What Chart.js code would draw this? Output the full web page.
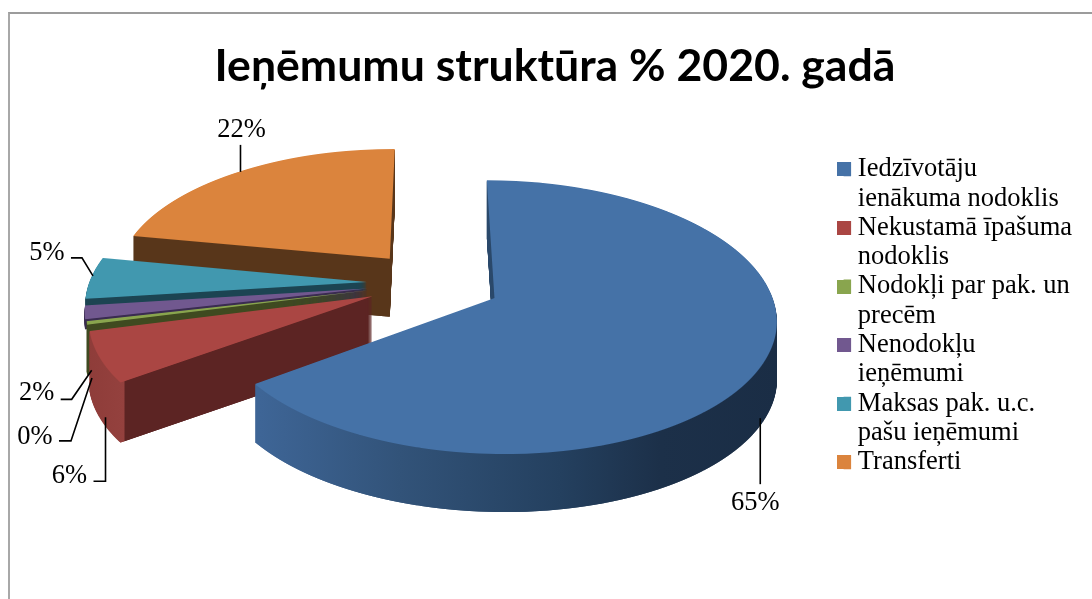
<!DOCTYPE html>
<html>
<head>
<meta charset="utf-8">
<style>
html,body{margin:0;padding:0;background:#fff;width:1092px;height:599px;overflow:hidden}
#frame{position:absolute;left:8px;top:12px;width:1084px;height:587px;border-top:2px solid #9c9c9c;border-left:2px solid #a8a8a8;box-sizing:border-box}
canvas{position:absolute;left:0;top:0}
</style>
<script src="https://cdn.jsdelivr.net/npm/chart.js@4"></script>
</head>
<body>
<div id="frame"></div>
<canvas id="c" width="1092" height="599"></canvas>
<script>
const chartTitle = 'Ieņēmumu struktūra % 2020. gadā';
const categories = [
  ['Iedzīvotāju', 'ienākuma nodoklis'],
  ['Nekustamā īpašuma', 'nodoklis'],
  ['Nodokļi par pak. un', 'precēm'],
  ['Nenodokļu', 'ieņēmumi'],
  ['Maksas pak. u.c.', 'pašu ieņēmumi'],
  'Transferti'
];
const values = [65.0, 6.0, 0.4, 1.6, 5.0, 22.0];
const topColors = ['#4572A7', '#AA4643', '#89A54E', '#71588F', '#4198AF', '#DB843D'];
const drawOrder = [5, 4, 3, 2, 1, 0];
const sideStops = [
  [[260,'#3E6596'],[400,'#325379'],[560,'#24405F'],[660,'#1C3049'],[780,'#1A2D45']],
  [[85,'#8E3C39'],[124,'#94413E'],[125,'#5C2423'],[380,'#5C2423']],
  [[85,'#3F4A20'],[380,'#3F4A20']],
  [[85,'#3A2C50'],[380,'#3A2C50']],
  [[85,'#1C4452'],[380,'#1C4452']],
  [[130,'#58361A'],[400,'#58361A']]
];
/* leader geometry, relative to the projected rim point of each slice */
const leaderPaths = [
  [[-3,55],[-3,121]],
  [[6,60],[6,124],[-6,124]],
  [[5,55],[-16,118],[-28,118]],
  [[7,58],[-13,87],[-24,87]],
  [[2,-2],[-9,-20],[-20,-20]],
  [[2,0],[2,-27]]
];
const labelOffsets = [[-8,140],[-30,119],[-52,114],[-48,81],[-44,-25],[3,-42]];

/* projection of the pie plane */
const view = {cx:432, cy:283, tilt:0.475, persp:0.0005};
const sliceDepth = [58, 60, 50, 10, 8, 58];
const sliceExplode = [69, 65, 65, 65, 65, 68];
const sliceScale = [0.978, 0.985, 0.985, 0.99, 0.993, 0.985];
const rimPoint = (arc, i) => {
  const mid = (arc.startAngle + arc.endAngle) / 2;
  const reach = sliceExplode[i] + arc.outerRadius * sliceScale[i];
  const u = Math.cos(mid) * reach, v = Math.sin(mid) * reach;
  const w = 1 - view.persp * v;
  return [view.cx + u / w, view.cy + view.tilt * v / w];
};

const pie3d = {
  id: 'pie3d',
  beforeDatasetDraw() { return false; },
  afterDatasetsDraw(chart) {
    const W = chart.width, H = chart.height, ctx = chart.ctx;
    const arcs = chart.getDatasetMeta(0).data;
    const mk = () => { const c = document.createElement('canvas'); c.width = W; c.height = H; return c; };
    drawOrder.forEach((i) => {
      const arc = arcs[i], s = sliceScale[i];
      const mid = (arc.startAngle + arc.endAngle) / 2;
      const ex = Math.cos(mid) * sliceExplode[i], ey = Math.sin(mid) * sliceExplode[i];
      const top = mk(), tc = top.getContext('2d');
      for (let Y = 90; Y < 520; Y++) {
        const t = Y + 0.5 - view.cy;
        const v = t / (view.tilt + view.persp * t);
        const w = 1 - view.persp * v;
        const sx = 1 / w, sy = view.tilt / (w * w);
        tc.save();
        tc.beginPath(); tc.rect(0, Y, W, 1); tc.clip();
        tc.setTransform(sx * s, 0, 0, sy * s,
          view.cx + sx * (ex - s * arc.x),
          Y + 0.5 + sy * (ey - v - s * arc.y));
        arc.draw(tc);
        tc.restore();
      }
      const side = mk(), sc = side.getContext('2d');
      for (let z = 1; z <= sliceDepth[i]; z++) sc.drawImage(top, 0, z);
      const stops = sideStops[i];
      const x0 = stops[0][0], x1 = stops[stops.length - 1][0];
      const g = sc.createLinearGradient(x0, 0, x1, 0);
      stops.forEach(st => g.addColorStop((st[0] - x0) / (x1 - x0), st[1]));
      sc.globalCompositeOperation = 'source-in';
      sc.fillStyle = g; sc.fillRect(0, 0, W, H);
      ctx.drawImage(side, 0, 0);
      ctx.drawImage(side, 0, 0);
      ctx.drawImage(top, 0, 0);
    });
    ctx.save();
    ctx.strokeStyle = '#000'; ctx.lineWidth = 1.6;
    ctx.fillStyle = '#000'; ctx.font = '26.5px "Liberation Serif"';
    ctx.textAlign = 'center'; ctx.textBaseline = 'middle';
    arcs.forEach((arc, i) => {
      const [ax, ay] = rimPoint(arc, i);
      ctx.beginPath();
      leaderPaths[i].forEach((p, j) => j ? ctx.lineTo(ax + p[0], ay + p[1]) : ctx.moveTo(ax + p[0], ay + p[1]));
      ctx.stroke();
      ctx.fillText(Math.round(values[i]) + '%', ax + labelOffsets[i][0], ay + labelOffsets[i][1]);
    });
    ctx.restore();
  },
  afterDraw(chart) {
    /* the legend clips its own area, so its 14px swatches are completed here */
    const ctx = chart.ctx, legend = chart.legend, half = legend.options.labels.font.size / 2;
    legend.legendHitBoxes.forEach((hb, i) => {
      ctx.fillStyle = topColors[i];
      ctx.fillRect(Math.round(hb.left - 6.5), Math.round(hb.top + half - 7), 14, 14);
    });
  }
};

new Chart(document.getElementById('c'), {
  type: 'pie',
  data: { labels: categories, datasets: [{ data: values, backgroundColor: topColors, borderWidth: 0 }] },
  options: {
    responsive: false,
    animation: false,
    radius: 280,
    layout: { padding: { left: 28, right: 10, top: 0, bottom: 0 } },
    plugins: {
      tooltip: { enabled: false },
      title: {
        display: true, text: chartTitle, color: '#000',
        font: { family: 'Lato', weight: 'bold', size: 44.6, lineHeight: 1.2 },
        padding: { top: 40, bottom: 62.5 }
      },
      legend: {
        position: 'right', align: 'start', fullSize: false,
        labels: {
          color: '#000', font: { family: 'Liberation Serif', size: 26.5, lineHeight: 1.106 },
          usePointStyle: true, pointStyle: 'rect', boxWidth: 1, boxHeight: 14, padding: 0
        }
      }
    }
  },
  plugins: [pie3d]
});
</script>
</body>
</html>
